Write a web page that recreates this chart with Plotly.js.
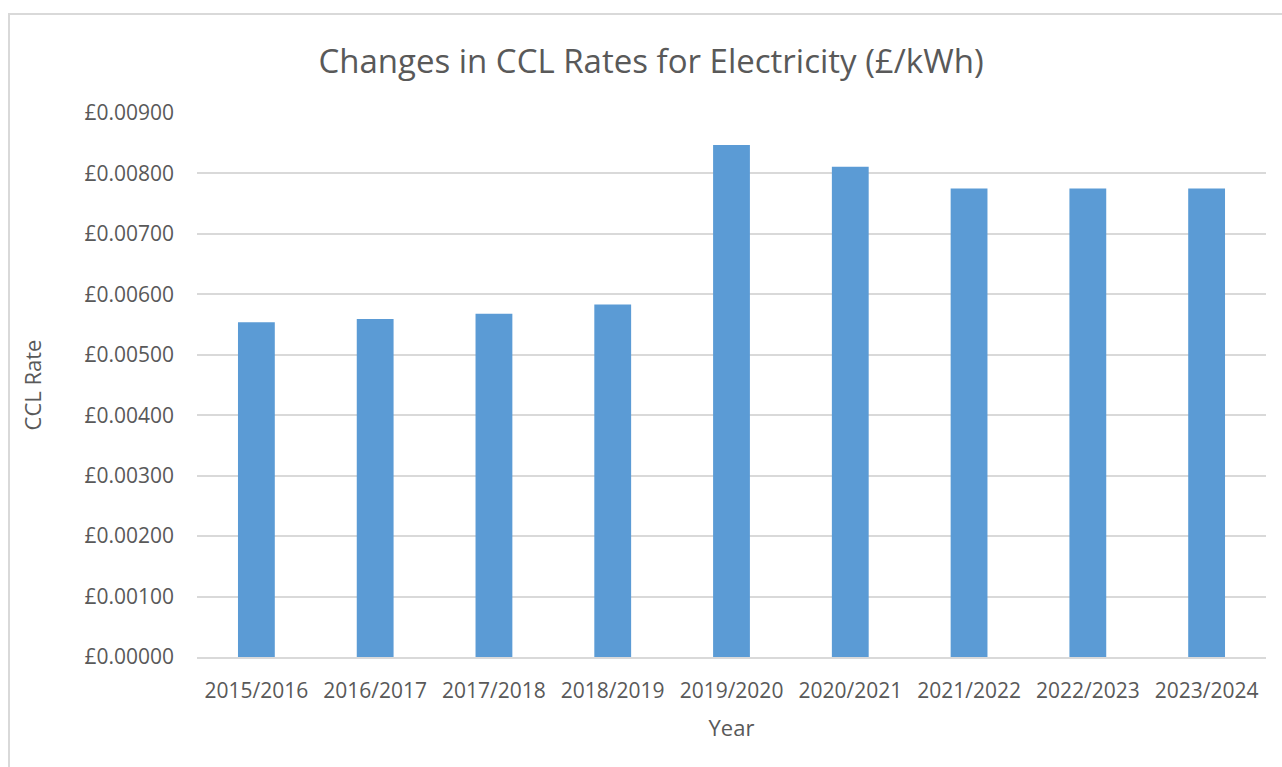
<!DOCTYPE html>
<html>
<head>
<meta charset="utf-8">
<script src="https://cdn.plot.ly/plotly-3.0.1.min.js"></script>
<style>
  html, body { margin: 0; padding: 0; background: #ffffff; overflow: hidden; }
  #frame { position: absolute; left: 8px; top: 13px; width: 1300px; height: 800px; border: 2px solid #d9d9d9; box-sizing: border-box; }
  #chart { position: absolute; left: 0; top: 0; width: 1282px; height: 767px; }
</style>
</head>
<body>
<div id="frame"></div>
<div id="chart"></div>
<script>
const years = ["2015/2016", "2016/2017", "2017/2018", "2018/2019", "2019/2020", "2020/2021", "2021/2022", "2022/2023", "2023/2024"];
const cclRates = [0.00554, 0.00559, 0.00568, 0.00583, 0.00847, 0.00811, 0.00775, 0.00775, 0.00775];

const fontFamily = '"Open Sans", "Liberation Sans", sans-serif';
const textColor = '#595959';

const trace = {
  type: 'bar',
  x: years,
  y: cclRates,
  marker: { color: '#5b9bd5' },
  hoverinfo: 'x+y'
};

const layout = {
  width: 1282,
  height: 767,
  margin: { l: 197, r: 16, t: 113, b: 110 },
  paper_bgcolor: 'rgba(0,0,0,0)',
  plot_bgcolor: 'rgba(0,0,0,0)',
  bargap: 0.69,
  showlegend: false,
  font: { family: fontFamily, color: textColor },
  title: {
    text: 'Changes in CCL Rates for Electricity (£/kWh)',
    font: { family: fontFamily, size: 33, color: textColor },
    x: 651 / 1282, xanchor: 'center', xref: 'container',
    y: 1 - 61 / 767, yref: 'container', yanchor: 'middle'
  },
  xaxis: {
    title: { text: 'Year', font: { size: 22, color: textColor }, standoff: 17 },
    tickfont: { size: 21, color: textColor },
    showgrid: false,
    showline: true,
    linecolor: '#d9d9d9',
    linewidth: 2,
    ticks: '',
    ticklabelstandoff: 14
  },
  yaxis: {
    title: { text: 'CCL Rate', font: { size: 22, color: textColor }, standoff: 36 },
    tickfont: { size: 21, color: textColor },
    range: [0, 0.009],
    dtick: 0.001,
    tick0: 0,
    tickprefix: '£',
    tickformat: '.5f',
    showgrid: true,
    gridcolor: '#d9d9d9',
    gridwidth: 1.5,
    zeroline: false,
    showline: false,
    ticks: '',
    ticklabelstandoff: 22
  }
};

Plotly.newPlot('chart', [trace], layout, { displayModeBar: false });
</script>
</body>
</html>
